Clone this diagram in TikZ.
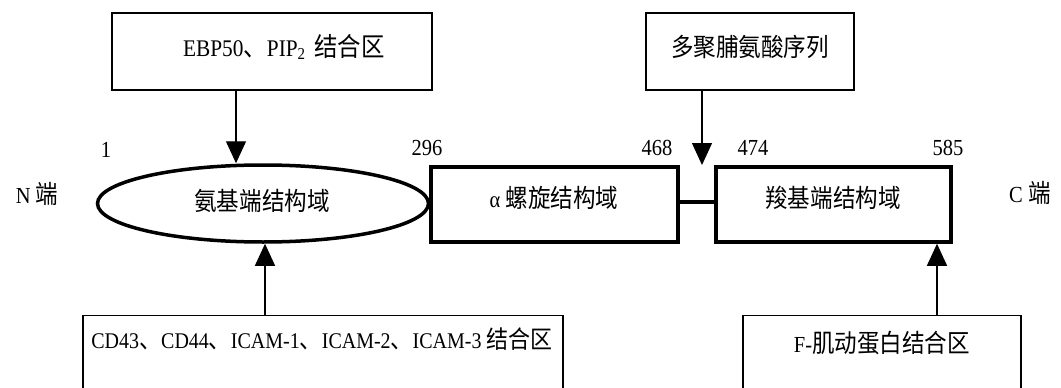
\documentclass[tikz,border=0pt]{standalone}
\usepackage{fontspec}
\setmainfont{Liberation Serif}
\newfontfamily\cjk{Noto Sans CJK SC}[Scale=1.1]
\usetikzlibrary{arrows.meta,shapes.geometric}
\begin{document}
\begin{tikzpicture}[x=1pt,y=-1pt,
  every node/.style={font=\fontsize{20.5}{24}\selectfont, inner sep=0pt},
  txt/.style={yscale=1.12, transform shape},
  thinbox/.style={draw, line width=1.3pt, rectangle},
  thickbox/.style={draw, line width=3.5pt, rectangle},
  thickell/.style={draw, line width=3.5pt, ellipse},
  arr/.style={line width=1.3pt, -{Triangle[width=20pt,length=22pt]}},
  link/.style={line width=3.5pt}]
\useasboundingbox (0,0) rectangle (1061,388);
\clip (0,0) rectangle (1061,388);
% top boxes
\node[thinbox, minimum width=320pt, minimum height=77pt] (top1) at (272,51.5) {};
\node[txt, font=\fontsize{21.3}{24}\selectfont] (t1) at (284,47) {EBP50{\cjk 、}PIP\textsubscript{2}\, {\cjk 结合区}};
\node[thinbox, minimum width=208pt, minimum height=77pt] (top2) at (750,51.5) {};
\node[txt] (t2) at (750,47) {\cjk 多聚脯氨酸序列};
% domains
\node[thickell, minimum width=331pt, minimum height=77pt] (ell) at (263,203.5) {};
\node[txt] (te) at (262,201) {\cjk 氨基端结构域};
\node[thickbox, minimum width=247pt, minimum height=75pt] (alpha) at (554.5,204.5) {};
\node[txt] (ta) at (554,198) {α {\cjk 螺旋结构域}};
\node[thickbox, minimum width=235pt, minimum height=75pt] (carb) at (833.5,204.5) {};
\node[txt] (tc) at (833,198) {\cjk 羧基端结构域};
\draw[link] (alpha.east |- 0,202) -- (carb.west |- 0,202);
% bottom boxes
\node[thinbox, minimum width=480pt, minimum height=120pt, anchor=north] (bot1) at (323,315) {};
\node[txt, font=\fontsize{20}{24}\selectfont] (tb1) at (322,339) {CD43{\cjk 、}CD44{\cjk 、}ICAM-1{\cjk 、}ICAM-2{\cjk 、}ICAM-3 {\cjk 结合区}};
\node[thinbox, minimum width=278pt, minimum height=120pt, anchor=north] (bot2) at (882,315) {};
\node[txt] (tb2) at (882,343) {F-{\cjk 肌动蛋白结合区}};
% side labels
\node[txt] (nend) at (37,194) {N {\cjk 端}};
\node[txt, anchor=west] (cend) at (1009,193) {C {\cjk 端}};
% numbers
\node[txt] (n1) at (106,150) {1};
\node[txt] (n296) at (427,148) {296};
\node[txt] (n468) at (657,148) {468};
\node[txt] (n474) at (753,148) {474};
\node[txt] (n585) at (948,148) {585};
% arrows
\coordinate (a1) at (236,0);
\coordinate (a2) at (702,0);
\coordinate (a3) at (265,0);
\coordinate (a4) at (937,0);
\coordinate (tip2) at (702,165);
\draw[arr] (top1.south -| a1) -- (ell.north -| a1);
\draw[arr] (top2.south -| a2) -- (tip2);
\draw[arr] (bot1.north -| a3) -- (ell.south -| a3);
\draw[arr] (bot2.north -| a4) -- (carb.south -| a4);
\end{tikzpicture}
\end{document}
